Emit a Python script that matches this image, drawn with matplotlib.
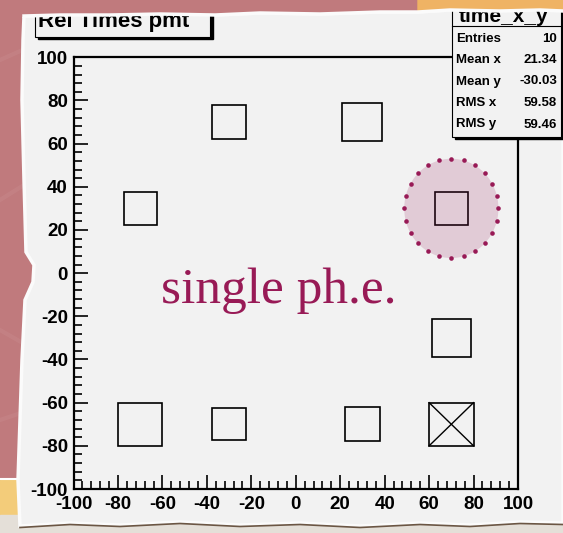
import numpy as np
import matplotlib
matplotlib.use("Agg")
import matplotlib.pyplot as plt
from matplotlib.patches import Rectangle, Polygon, Ellipse

plt.rcParams["axes.unicode_minus"] = False

# filled cells of time_x_y (bin centres and contents, 20x20 bins)
bin_x = [-30, 30, -70, 70, 70, -70, -30, 30, 70]
bin_y = [70, 70, 30, 30, -30, -70, -70, -70, -70]
bin_val = [0.77, 0.90, 0.75, 0.75, 0.87, 1.00, 0.75, 0.78, -1.00]
bin_width = 20

hist_title = "Rel Times pmt"
stats_title = "time_x_y"
stats_names = ["Entries", "Mean x", "Mean y", "RMS x", "RMS y"]
stats_values = ["10", "21.34", "-30.03", "59.58", "59.46"]
axis_ticks = list(range(-100, 101, 20))
highlight_bin = (70, 30)
note = "single ph.e."

ROSE = "#c07a7d"
ORANGE = "#efb364"
YELLOW = "#f3cc7a"
PAPER = "#f2f2f2"
WINE = "#981a56"

W, H = 563, 533
fig = plt.figure(figsize=(W / 100, H / 100), dpi=100)

# background slide + torn sheet, in pixel units
bg = fig.add_axes([0, 0, 1, 1], zorder=0)
bg.set_xlim(0, W)
bg.set_ylim(H, 0)
bg.axis("off")
bg.add_patch(Rectangle((0, 0), W, H, color=ROSE, zorder=0.1))
for x0, y0, x1, y1 in [(0, 60, 90, 20), (0, 200, 80, 150), (0, 330, 70, 370), (0, 420, 60, 400)]:
    bg.plot([x0, x1], [y0, y1], color="#cb8e90", lw=3, alpha=0.35, zorder=0.2)
bg.add_patch(Rectangle((0, 480), 30, 60, color=YELLOW, zorder=0.3))
bg.plot([0, 30], [479, 479], color="white", lw=1.5, zorder=0.3)
bg.add_patch(Rectangle((0, 515), W, 20, color="#e4dfd8", zorder=0.3))

top_edge = [(24, 16), (60, 15), (110, 15), (160, 14), (215, 15), (260, 13), (320, 14),
            (380, 12), (418, 12), (450, 10), (500, 11), (540, 10), (563, 11)]
bottom_edge = [(563, 523), (520, 522), (470, 525), (420, 523), (360, 526), (300, 523),
               (240, 525), (180, 522), (120, 525), (70, 523), (20, 526)]
left_edge = [(18, 480), (20, 420), (22, 360), (25, 300), (33, 282), (34, 265),
             (26, 252), (24, 180), (22, 100), (23, 40)]
paper = top_edge + bottom_edge + left_edge
bg.add_patch(Polygon(paper, closed=True, facecolor=PAPER, edgecolor="#fbfbfb", lw=2.5, zorder=1))
bx, by = zip(*bottom_edge)
bg.plot(bx, np.array(by) + 1.5, color="#6b5644", lw=1.2, zorder=2)

# the 2D histogram drawn as boxes
ax = fig.add_axes([73.5 / W, 1 - 489 / H, (518 - 73.5) / W, (489 - 57.3) / H], zorder=1)
ax.set_facecolor("none")
ax.set_xlim(-100, 100)
ax.set_ylim(-100, 100)
vmax = max(abs(v) for v in bin_val)
for x, y, v in zip(bin_x, bin_y, bin_val):
    s = bin_width * abs(v) / vmax
    ax.add_patch(Rectangle((x - s / 2, y - s / 2), s, s, fill=False, ec="black", lw=1.2))
    if v < 0:
        ax.plot([x - s / 2, x + s / 2], [y - s / 2, y + s / 2], color="black", lw=1)
        ax.plot([x - s / 2, x + s / 2], [y + s / 2, y - s / 2], color="black", lw=1)

# highlight ring round the single photoelectron cell
rx, ry = 21.2, 23
ax.add_patch(Ellipse(highlight_bin, 2 * rx, 2 * ry, facecolor=(0.6, 0.1, 0.35, 0.18),
                     edgecolor="none", zorder=3))
t = np.linspace(0, 2 * np.pi, 25)[:-1]
ax.plot(highlight_bin[0] + rx * np.cos(t), highlight_bin[1] + ry * np.sin(t), "o",
        ms=3.3, color=WINE, mec="none", zorder=4)
ax.text(-7.5, -13.7, note, family="Liberation Serif", fontsize=37, color=WINE,
        ha="center", va="baseline")

for sp in ax.spines.values():
    sp.set_linewidth(1.6)
ax.set_xticks(axis_ticks)
ax.set_yticks(axis_ticks)
ax.set_xticks(np.arange(-100, 101, 4), minor=True)
ax.set_yticks(np.arange(-100, 101, 4), minor=True)
ax.tick_params(which="both", direction="in", width=1.2, top=False, right=False)
ax.tick_params(which="major", length=10)
ax.tick_params(which="minor", length=5.5)
ax.tick_params(axis="x", pad=5)
ax.tick_params(axis="y", pad=4)
for lab in ax.get_xticklabels() + ax.get_yticklabels():
    lab.set_family("Liberation Sans")
    lab.set_fontweight("bold")
    lab.set_fontsize(13.5)

# title pave and stats box on top, then the torn upper edge over them
fg = fig.add_axes([0, 0, 1, 1], zorder=2)
fg.set_xlim(0, W)
fg.set_ylim(H, 0)
fg.axis("off")
fg.add_patch(Rectangle((37.5, -3), 175, 42, color="black"))
fg.add_patch(Rectangle((35, -5), 175, 41.5, facecolor=PAPER, edgecolor="black", lw=0.8))
fg.text(38, 27, hist_title, family="Liberation Sans", fontweight="bold", fontsize=16,
        va="baseline")

fg.add_patch(Rectangle((454.5, -3), 110, 142, color="black"))
fg.add_patch(Rectangle((452, -5), 109, 141.5, facecolor=PAPER, edgecolor="black", lw=0.8))
fg.plot([452, 561], [26, 26], color="black", lw=0.8)
fg.text(504, 21.5, stats_title, family="Liberation Sans", fontweight="bold", fontsize=15,
        ha="center", va="baseline")
for i, (name, val) in enumerate(zip(stats_names, stats_values)):
    yy = 38.5 + i * 21.5
    fg.text(456, yy, name, family="Liberation Sans", fontweight="bold", fontsize=9.5, va="center")
    fg.text(557, yy, val, family="Liberation Sans", fontweight="bold", fontsize=9.5,
            ha="right", va="center")

rose_top = [(0, 0), (418, 0)] + top_edge[8::-1] + [(0, 16)]
orange_top = [(418, 0), (W, 0)] + top_edge[:7:-1]
fg.add_patch(Polygon(rose_top, closed=True, color=ROSE, zorder=10))
fg.add_patch(Polygon(orange_top, closed=True, color=ORANGE, zorder=10))
tx, ty = zip(*top_edge)
fg.plot(tx, ty, color="#fbfbfb", lw=2.5, zorder=11)

fig.savefig("out.png", dpi=100)
